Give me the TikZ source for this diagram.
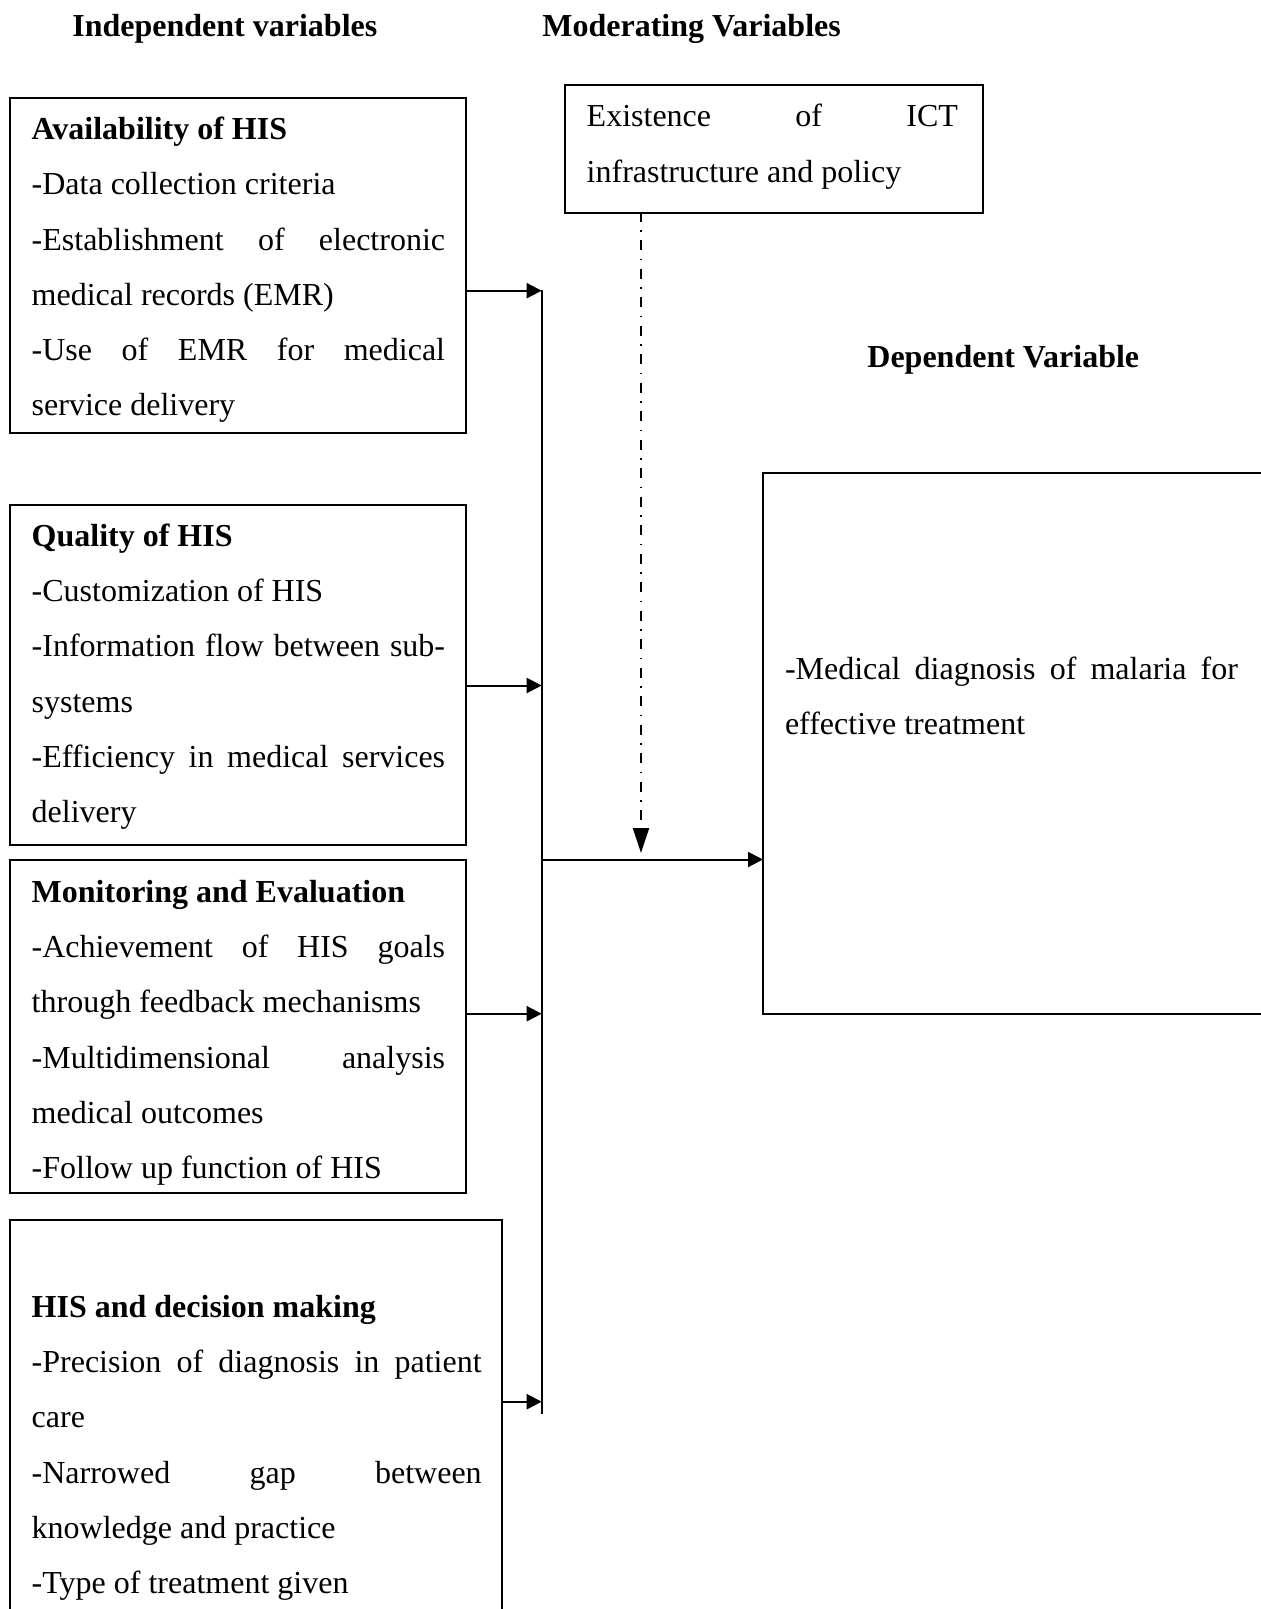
\documentclass[tikz,border=0pt]{standalone}
\usepackage{fontspec}
\setmainfont{Liberation Serif}
\usetikzlibrary{arrows.meta}
\newcommand{\Ln}[1]{\hbox to \hsize{#1\hfil}}
\newcommand{\Jl}[1]{\hbox to \hsize{#1}}
\newcommand{\Blk}[2]{\vtop{\hsize=#1\relax\baselineskip=27.6pt\lineskiplimit=-100pt #2}}
\begin{document}
\begin{tikzpicture}[x=0.5pt,y=-0.5pt,
  box/.style={draw, line width=1pt, anchor=north west, inner sep=0pt, outer sep=0pt},
  txt/.style={anchor=base west, inner sep=0pt, outer sep=0pt, font=\fontsize{16}{27.6}\selectfont},
  hdr/.style={anchor=base west, inner sep=0pt, font=\fontsize{16}{27.6}\selectfont\bfseries},
  arr/.style={line width=1pt, -{Triangle[length=7.5pt,width=7.5pt]}},
  bus/.style={line width=1pt},
  ddline/.style={line width=1pt, dash pattern=on 5pt off 4.25pt on 0.75pt off 4.25pt, dash phase=0.5pt, -{Triangle[length=12.5pt,width=8pt]}}]
\useasboundingbox (0,0) rectangle (1261,1609);
\clip (0,0) rectangle (1261,1609);
\fill[white] (0,0) rectangle (1261,1609);

% headers
\node[hdr] (hind) at (72,36.6) {Independent variables};
\node[hdr] (hmod) at (542,36.6) {Moderating Variables};
\node[hdr] (hdep) at (867,368) {Dependent Variable};

% boxes
\node[box, minimum width=228pt, minimum height=167.35pt] (b1) at (10,98.3) {};
\node[box, minimum width=228pt, minimum height=169.75pt] (b2) at (10,505) {};
\node[box, minimum width=228pt, minimum height=166.5pt] (b3) at (10,860) {};
\node[box, minimum width=245.85pt, minimum height=240pt] (b4) at (10,1220) {};
\node[box, minimum width=208.85pt, minimum height=63.85pt] (mod) at (565,85) {};
\node[box, minimum width=278.5pt, minimum height=270.35pt] (dep) at (763,473) {};

% texts
\node[txt] (t1) at (31.7,139.8) {\Blk{206.7pt}{%
\Ln{\textbf{Availability of HIS}}
\Ln{-Data collection criteria}
\Jl{-Establishment of electronic}
\Ln{medical records (EMR)}
\Jl{-Use of EMR for medical}
\Ln{service delivery}}};

\node[txt] (t2) at (31.7,546.5) {\Blk{206.7pt}{%
\Ln{\textbf{Quality of HIS}}
\Ln{-Customization of HIS}
\Jl{-Information flow between sub-}
\Ln{systems}
\Jl{-Efficiency in medical services}
\Ln{delivery}}};

\node[txt] (t3) at (31.7,902.5) {\Blk{206.7pt}{%
\Ln{\textbf{Monitoring and Evaluation}}
\Jl{-Achievement of HIS goals}
\Ln{through feedback mechanisms}
\Jl{-Multidimensional analysis}
\Ln{medical outcomes}
\Ln{-Follow up function of HIS}}};

\node[txt] (t4) at (31.7,1317.5) {\Blk{225pt}{%
\Ln{\textbf{HIS and decision making}}
\Jl{-Precision of diagnosis in patient}
\Ln{care}
\Jl{-Narrowed gap between}
\Ln{knowledge and practice}
\Ln{-Type of treatment given}}};

\node[txt] (tm) at (586.7,127) {\Blk{185.6pt}{%
\Jl{Existence of ICT}
\Ln{infrastructure and policy}}};

\node[txt] (td) at (785,679) {\Blk{226.5pt}{%
\Jl{-Medical diagnosis of malaria for}
\Ln{effective treatment}}};

% connectors
\coordinate (j1) at (541.7,290.7);
\coordinate (j2) at (541.7,685.5);
\coordinate (j3) at (541.7,1013.7);
\coordinate (j4) at (541.7,1401.7);
\coordinate (jtop) at (541.7,290.2);
\coordinate (jbot) at (541.7,1414);
\coordinate (jm) at (541.7,859.5);
\coordinate (ddtip) at (641,853);

\draw[bus] (jtop) -- (jbot);
\draw[arr] (b1.east |- j1) -- (j1);
\draw[arr] (b2.east |- j2) -- (j2);
\draw[arr] (b3.east |- j3) -- (j3);
\draw[arr] (b4.east |- j4) -- (j4);
\draw[arr] (jm) -- (dep.west |- jm);
\draw[ddline] (mod.south -| ddtip) -- (ddtip);
\end{tikzpicture}
\end{document}
